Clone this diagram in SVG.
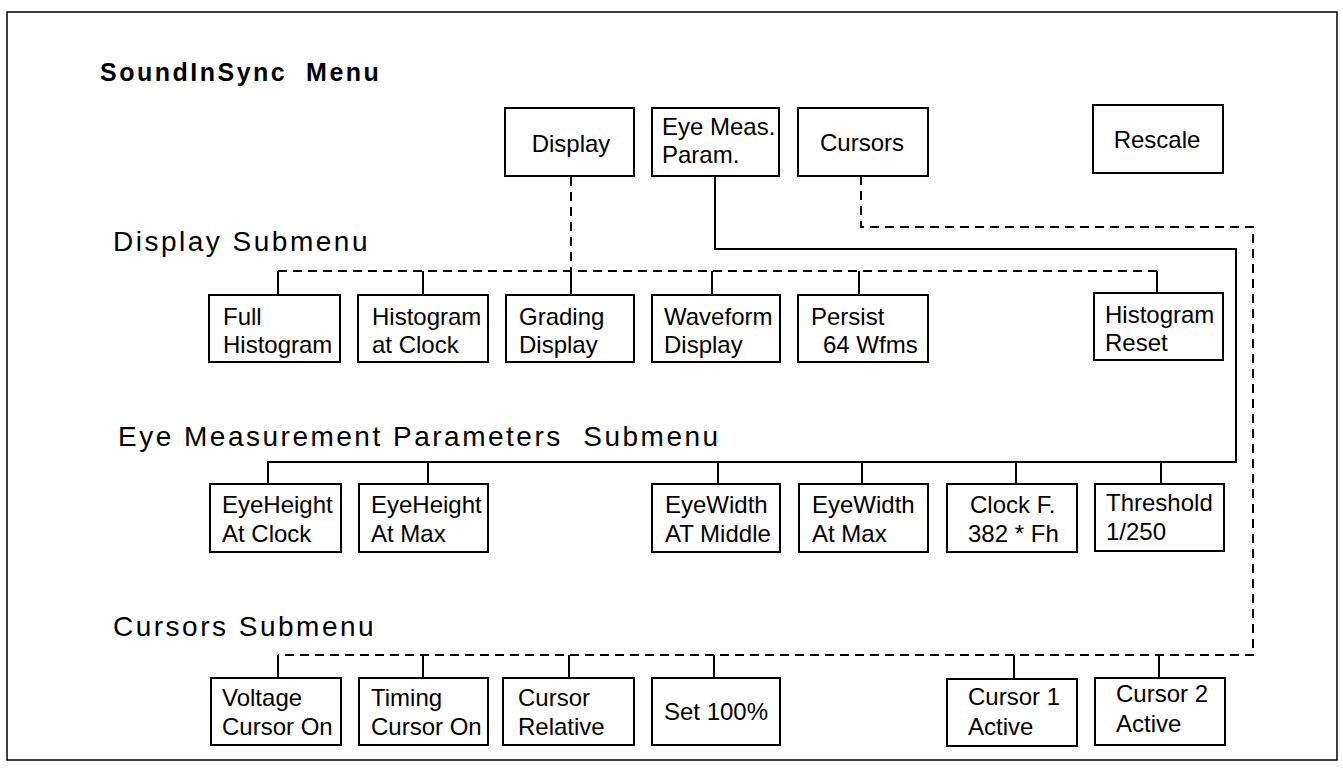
<svg xmlns="http://www.w3.org/2000/svg" width="1343" height="771" viewBox="0 0 1343 771">
  <style>
    .box { fill: #fff; stroke: #000; stroke-width: 2; }
    .t { font-family: "Liberation Sans", Arial, sans-serif; font-size: 24px; fill: #000; }
    .head { font-family: "Liberation Sans", Arial, sans-serif; font-size: 28px; fill: #000; letter-spacing: 2.5px; }
    .title { font-family: "Liberation Sans", Arial, sans-serif; font-size: 25px; font-weight: bold; fill: #000; letter-spacing: 2.5px; }
    .solid { fill: none; stroke: #000; stroke-width: 2; }
    .dash { fill: none; stroke: #000; stroke-width: 2; stroke-dasharray: 9 6; }
  </style>
  <rect x="0" y="0" width="1343" height="771" fill="#fff"/>
  <!-- outer frame -->
  <rect x="7" y="12" width="1330" height="748" fill="none" stroke="#000" stroke-width="1.5"/>

  <!-- headings -->
  <text class="title" x="100" y="81" xml:space="preserve">SoundInSync  Menu</text>
  <text class="head" x="113" y="251">Display Submenu</text>
  <text class="head" x="118" y="446" xml:space="preserve">Eye Measurement Parameters  Submenu</text>
  <text class="head" x="113" y="636">Cursors Submenu</text>

  <!-- connectors -->
  <g id="connectors">
    <!-- Display -> Display submenu -->
    <path class="dash" d="M571,177 V271"/>
    <path class="dash" d="M278,271 H1157"/>
    <path class="solid" d="M278,271 V295 M423,271 V295 M571,271 V295 M712,271 V295 M859,271 V295 M1157,271 V293"/>
    <!-- Eye Meas. Param. -> Eye submenu -->
    <path class="solid" d="M715,176 V249 H1236 V462 H268 V484"/>
    <path class="solid" d="M428,462 V484 M718,462 V484 M862,462 V484 M1016,462 V484 M1161,462 V484"/>
    <!-- Cursors -> Cursors submenu -->
    <path class="dash" d="M861,176 V227 H1253 V655 H278"/>
    <path class="solid" d="M278,655 V678 M423,655 V678 M569,655 V678 M714,655 V678 M1014,655 V678 M1159,655 V678"/>
  </g>

  <!-- main menu -->
  <g id="display"><rect class="box" x="505" y="108" width="129" height="68"/><text class="t" x="571" y="152" text-anchor="middle">Display</text></g>
  <g id="eye-meas"><rect class="box" x="652" y="108" width="127" height="68"/><text class="t" x="662" y="135">Eye Meas.</text><text class="t" x="662" y="163">Param.</text></g>
  <g id="cursors"><rect class="box" x="798" y="108" width="130" height="68"/><text class="t" x="862" y="151" text-anchor="middle">Cursors</text></g>
  <g id="rescale"><rect class="box" x="1093" y="105" width="130" height="68"/><text class="t" x="1157" y="148" text-anchor="middle">Rescale</text></g>

  <!-- display submenu -->
  <g id="full-histogram"><rect class="box" x="209" y="295" width="131" height="67"/><text class="t" x="223" y="325">Full</text><text class="t" x="223" y="353">Histogram</text></g>
  <g id="histogram-at-clock"><rect class="box" x="358" y="295" width="130" height="67"/><text class="t" x="372" y="325">Histogram</text><text class="t" x="372" y="353">at Clock</text></g>
  <g id="grading-display"><rect class="box" x="506" y="295" width="128" height="67"/><text class="t" x="519" y="325">Grading</text><text class="t" x="519" y="353">Display</text></g>
  <g id="waveform-display"><rect class="box" x="652" y="295" width="128" height="67"/><text class="t" x="664" y="325">Waveform</text><text class="t" x="664" y="353">Display</text></g>
  <g id="persist"><rect class="box" x="798" y="295" width="130" height="67"/><text class="t" x="811" y="325">Persist</text><text class="t" x="823" y="353">64 Wfms</text></g>
  <g id="histogram-reset"><rect class="box" x="1094" y="293" width="129" height="67"/><text class="t" x="1105" y="323">Histogram</text><text class="t" x="1105" y="351">Reset</text></g>

  <!-- eye measurement submenu -->
  <g id="eyeheight-clock"><rect class="box" x="210" y="484" width="131" height="68"/><text class="t" x="222" y="513">EyeHeight</text><text class="t" x="222" y="542">At Clock</text></g>
  <g id="eyeheight-max"><rect class="box" x="359" y="484" width="129" height="68"/><text class="t" x="371" y="513">EyeHeight</text><text class="t" x="371" y="542">At Max</text></g>
  <g id="eyewidth-middle"><rect class="box" x="652" y="484" width="128" height="68"/><text class="t" x="665" y="513">EyeWidth</text><text class="t" x="665" y="542">AT Middle</text></g>
  <g id="eyewidth-max"><rect class="box" x="799" y="484" width="129" height="68"/><text class="t" x="812" y="513">EyeWidth</text><text class="t" x="812" y="542">At Max</text></g>
  <g id="clock-f"><rect class="box" x="947" y="484" width="130" height="68"/><text class="t" x="970" y="513">Clock F.</text><text class="t" x="968" y="542">382 * Fh</text></g>
  <g id="threshold"><rect class="box" x="1095" y="484" width="129" height="67"/><text class="t" x="1106" y="511">Threshold</text><text class="t" x="1106" y="540">1/250</text></g>

  <!-- cursors submenu -->
  <g id="voltage-cursor"><rect class="box" x="211" y="678" width="130" height="67"/><text class="t" x="222" y="706">Voltage</text><text class="t" x="222" y="735">Cursor On</text></g>
  <g id="timing-cursor"><rect class="box" x="359" y="678" width="129" height="67"/><text class="t" x="371" y="706">Timing</text><text class="t" x="371" y="735">Cursor On</text></g>
  <g id="cursor-relative"><rect class="box" x="503" y="678" width="131" height="67"/><text class="t" x="518" y="706">Cursor</text><text class="t" x="518" y="735">Relative</text></g>
  <g id="set-100"><rect class="box" x="652" y="678" width="128" height="67"/><text class="t" x="716" y="720" text-anchor="middle">Set 100%</text></g>
  <g id="cursor1-active"><rect class="box" x="947" y="679" width="130" height="67"/><text class="t" x="968" y="705">Cursor 1</text><text class="t" x="968" y="735">Active</text></g>
  <g id="cursor2-active"><rect class="box" x="1095" y="678" width="130" height="67"/><text class="t" x="1116" y="702">Cursor 2</text><text class="t" x="1116" y="732">Active</text></g>
</svg>
